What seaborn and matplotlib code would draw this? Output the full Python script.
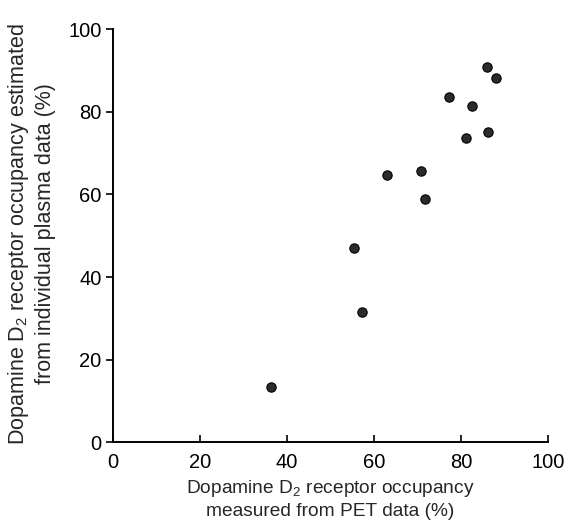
import matplotlib
matplotlib.use("Agg")
import matplotlib.pyplot as plt
import pandas as pd
import seaborn as sns

# occupancy measured from PET (%)
pet_occupancy = [85.9, 87.9, 77.2, 82.6, 86.2, 81.2, 70.8, 63.0, 71.8, 55.5, 57.2, 36.3]
# occupancy estimated from individual plasma data (%)
plasma_occupancy = [90.9, 88.3, 83.7, 81.4, 75.1, 73.7, 65.8, 64.8, 58.8, 47.0, 31.5, 13.4]
tick_values = [0, 20, 40, 60, 80, 100]

df = pd.DataFrame({"pet": pet_occupancy, "plasma": plasma_occupancy})

sns.set_style("ticks")
plt.rcParams["font.family"] = ["Liberation Sans", "DejaVu Sans"]

fig = plt.figure(figsize=(5.82, 5.29), dpi=100)
ax = fig.add_axes([0.1936, 0.164, 0.7484, 0.7806])

sns.scatterplot(data=df, x="pet", y="plasma", ax=ax, s=45,
                color="#2b2b2b", edgecolor="black", linewidth=0.8, legend=False)

ax.set_xlim(0, 100)
ax.set_ylim(0, 100)
ax.set_xticks(tick_values)
ax.set_yticks(tick_values)
sns.despine(ax=ax)
for sp in ax.spines.values():
    sp.set_linewidth(1.4)
    sp.set_color("black")

ax.tick_params(axis="x", direction="in", length=5, width=1.2, pad=8, labelsize=14.5, colors="black")
ax.tick_params(axis="y", direction="out", length=5, width=1.2, pad=3, labelsize=14.5, colors="black")

ax.set_xlabel("Dopamine D$_\\mathregular{2}$ receptor occupancy\nmeasured from PET data (%)",
              fontsize=13.8, labelpad=4, linespacing=1.3)
ax.set_ylabel("Dopamine D$_\\mathregular{2}$ receptor occupancy estimated\nfrom individual plasma data (%)",
              fontsize=15.5, labelpad=6, linespacing=1.22)
ax.yaxis.set_label_coords(-0.131, 0.505)

fig.savefig("out.png", dpi=100, facecolor="white")
